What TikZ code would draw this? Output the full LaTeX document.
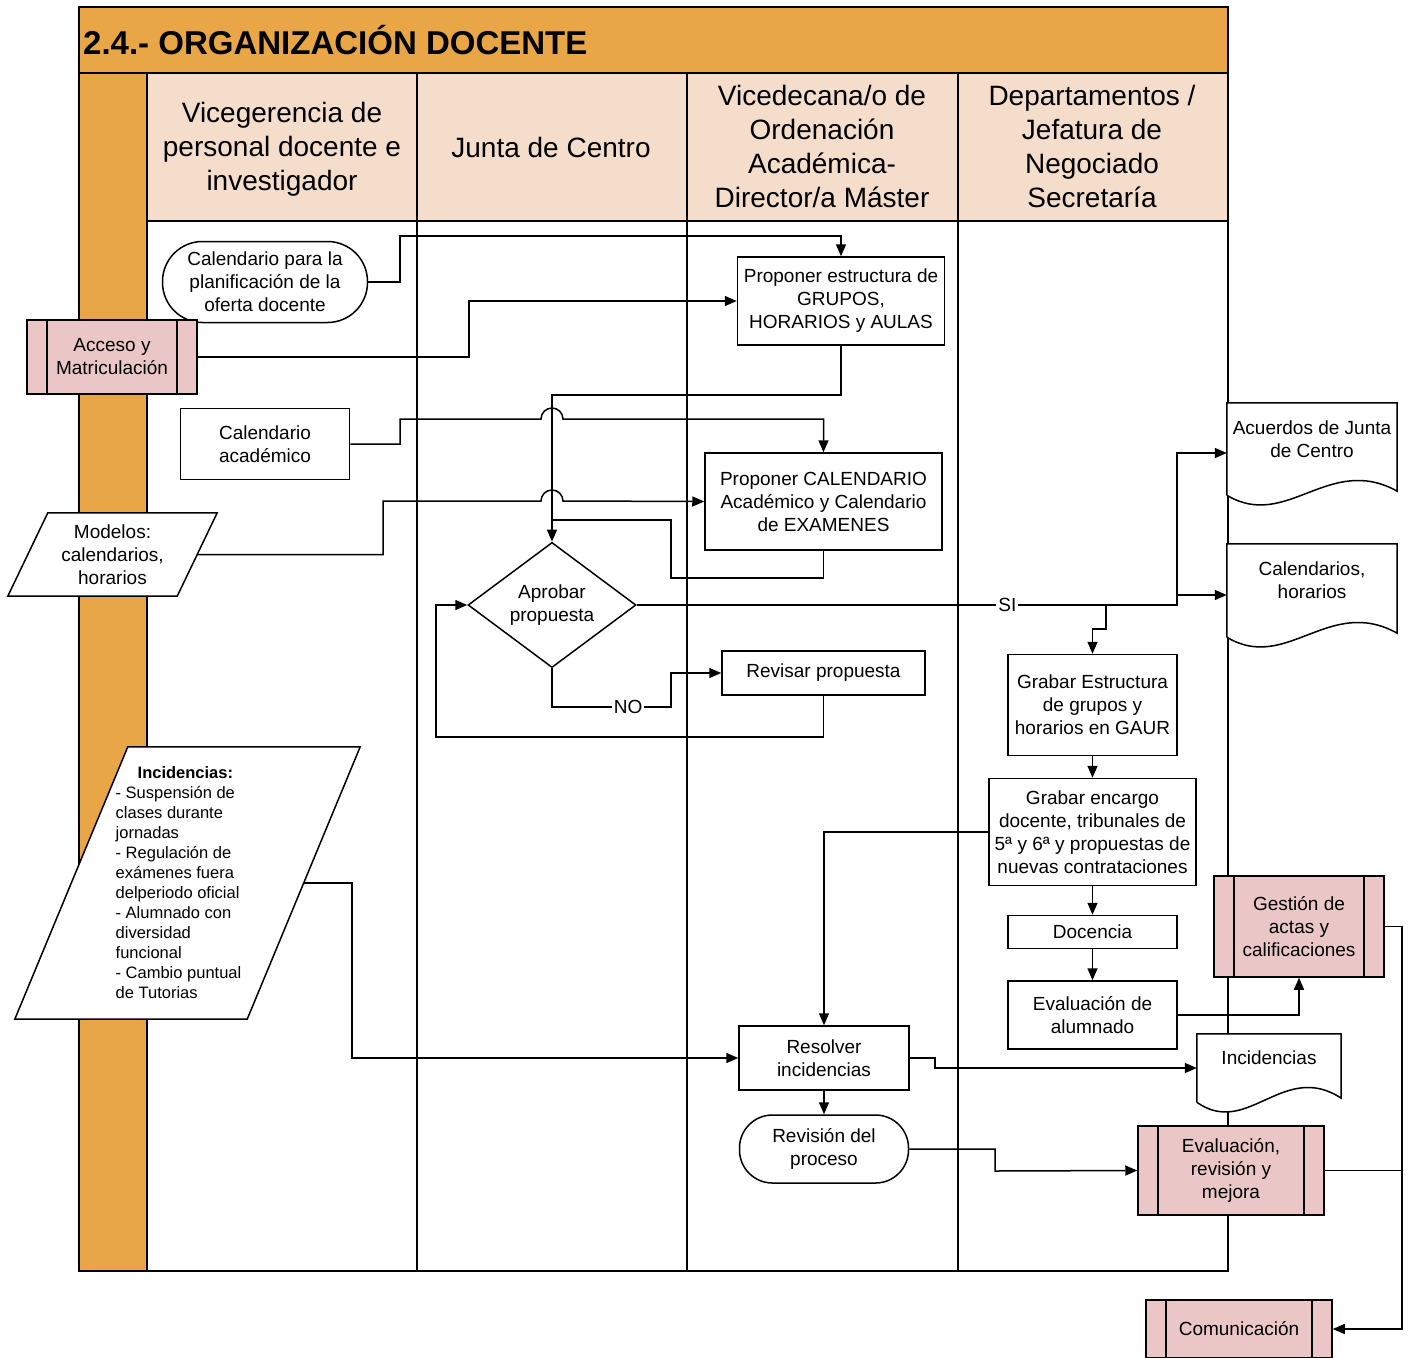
\documentclass[tikz,border=0pt]{standalone}
\usepackage{fontspec}
\setmainfont{Liberation Sans}
\usetikzlibrary{shapes.geometric,arrows.meta,backgrounds,calc}

\definecolor{barorange}{HTML}{E8A646}
\definecolor{headpeach}{HTML}{F4DDCA}
\definecolor{subpink}{HTML}{EAC6C6}

% document symbol: outline with a wavy bottom under the node
\newcommand{\docoutline}[1]{%
  \filldraw[conn,fill=white] ([yshift=-20pt]#1.south west) -- (#1.north west) -- (#1.north east)
    -- ([yshift=-16pt]#1.south east)
    .. controls ($(#1.south west)!0.6!(#1.south east)+(0,22pt)$)
    and ($(#1.south west)!0.35!(#1.south east)+(0,-56pt)$)
    .. ([yshift=-20pt]#1.south west);}
% data symbol: slanted box round the node
\newcommand{\paraoutline}[2]{%
  \filldraw[conn,fill=white] ([xshift=#2]#1.north west) -- (#1.north east)
    -- ([xshift=-#2]#1.south east) -- (#1.south west) -- cycle;}

\begin{document}
\begin{tikzpicture}[x=1pt,y=-1pt,>={Triangle[length=12pt,width=10pt]},
  every node/.style={font=\fontsize{19}{23}\selectfont,align=center,inner sep=0pt},
  conn/.style={line width=1.5pt},
  lane/.style={line width=1.8pt},
  box/.style={draw,fill=white,line width=1.5pt},
  term/.style={box,rounded corners=33pt},
  subproc/.style={box,fill=subpink,path picture={
    \draw[line width=1.5pt] ([xshift=20pt]path picture bounding box.north west) -- ([xshift=20pt]path picture bounding box.south west)
      ([xshift=-20pt]path picture bounding box.north east) -- ([xshift=-20pt]path picture bounding box.south east);}},
  dec/.style={box,diamond},
  lbl/.style={fill=white,inner xsep=2pt}]
  \useasboundingbox (0,0) rectangle (1409,1358);

  % inputs on the left
  \node [term,rounded corners=40pt,minimum width=205pt,minimum height=81pt] (plan) at (265,282) {Calendario para la\\planificación de la\\oferta docente};
  \node [subproc,minimum width=170pt,minimum height=74pt] (acceso) at (112,357) {Acceso y\\Matriculación};
  \node [box,minimum width=169pt,minimum height=71pt] (calacad) at (265,444) {Calendario\\académico};
  \node [minimum width=209pt,minimum height=83pt] (modelos) at (112.5,554.5) {Modelos:\\calendarios,\\horarios};
  \node [minimum width=345pt,minimum height=272pt,align=left,font=\fontsize{16.5}{20}\selectfont] (incid) at (187.5,883)
    {\hspace*{22pt}\textbf{Incidencias:}\\- Suspensión de\\clases durante\\jornadas\\- Regulación de\\exámenes fuera\\delperiodo oficial\\- Alumnado con\\diversidad\\funcional\\- Cambio puntual\rule{18pt}{0pt}\\de Tutorias};

  % vicedecanato
  \node [box,minimum width=207pt,minimum height=88pt] (grupos) at (841,301) {Proponer estructura de\\GRUPOS,\\HORARIOS y AULAS};
  \node [box,minimum width=237pt,minimum height=97pt] (propcal) at (823.5,501.5) {Proponer CALENDARIO\\Académico y Calendario\\de EXAMENES};
  \node [dec,minimum width=168pt,minimum height=101pt] (aprobar) at (552,605) {Aprobar\\propuesta};
  \node [box,minimum width=203pt,minimum height=44pt] (revisar) at (823.5,673) {Revisar propuesta};
  \node [box,minimum width=170pt,minimum height=64pt] (resolver) at (824,1058) {Resolver\\incidencias};
  \node [term,below of=resolver,node distance=91pt,minimum width=169pt,minimum height=68pt] (revision) {Revisión del\\proceso};

  % departamentos
  \node [box,minimum width=169pt,minimum height=101pt] (grabest) at (1092.5,705) {Grabar Estructura\\de grupos y\\horarios en GAUR};
  \node [box,below of=grabest,node distance=127pt,minimum width=207pt,minimum height=107pt] (grabenc) {Grabar encargo\\docente, tribunales de\\5ª y 6ª y propuestas de\\nuevas contrataciones};
  \node [box,below of=grabenc,node distance=100pt,minimum width=169pt,minimum height=33pt] (docencia) {Docencia};
  \node [box,below of=docencia,node distance=83pt,minimum width=169pt,minimum height=68pt] (evalal) {Evaluación de\\alumnado};

  % outputs on the right
  \node [minimum width=170pt,minimum height=72pt] (acuerdos) at (1312,439) {Acuerdos de Junta\\de Centro};
  \node [minimum width=170pt,minimum height=73pt] (calend) at (1312,580.5) {Calendarios,\\horarios};
  \node [minimum width=144pt,minimum height=48pt] (inciddoc) at (1269,1058) {Incidencias};
  \node [subproc,minimum width=170pt,minimum height=101pt] (gestion) at (1299,926.5) {Gestión de\\actas y\\calificaciones};
  \node [subproc,minimum width=186pt,minimum height=89pt] (evalrev) at (1231,1170.5) {Evaluación,\\revisión y\\mejora};
  \node [subproc,minimum width=186pt,minimum height=58pt] (comun) at (1239,1329) {Comunicación};

  \coordinate (fork) at (1177,595);
  \coordinate (split) at (1106,605);

  \draw[conn,->] (plan.east) -| (400,236) -| (grupos.north);
  \draw[conn,->] (acceso.east) -| (469,301) -- (grupos.west);
  \draw[conn,->] (grupos.south) |- (552,395) -- (aprobar.north);
  \draw[conn,->] (calacad.east) -| (400,419) -- (541,419) arc (180:360:11) -| (propcal.north);
  \draw[conn,->] ([xshift=-20pt]modelos.east) -| (383,501) -- (541,501) arc (180:360:11) -- (propcal.west);
  \draw[conn] (propcal.south) |- (671,578) |- (552,520);
  \draw[conn,->] (aprobar.east) -- node[lbl,pos=0.686] {SI} (1177,605) |- ([yshift=-14pt]acuerdos.west);
  \draw[conn,->] (fork) -- (fork -| calend.west);
  \draw[conn,->] (split) -- (1106,629) -| (grabest.north);
  \draw[conn,->] (aprobar.south) |- node[lbl,pos=0.82] {NO} (671,707) |- (revisar.west);
  \draw[conn,->] (revisar.south) |- (436,737) |- (aprobar.west);
  \draw[conn,->] (grabest) -- (grabenc);
  \draw[conn,->] (grabenc.west) -| (resolver.north);
  \draw[conn,->] (grabenc) -- (docencia);
  \draw[conn,->] (docencia) -- (evalal);
  \draw[conn,->] (evalal.east) -| (gestion.south);
  \draw[conn,->] ([xshift=-56pt]incid.east) -| (352,1058) -- (resolver.west);
  \draw[conn,->] (resolver.east) -| (935,1068) -- ([yshift=-10pt]inciddoc.west);
  \draw[conn,->] (resolver) -- (revision);
  \draw[conn,->] (revision.east) -| (995,1171) -- (evalrev.west);
  \draw[conn,->] (gestion.east) -| (1402,1329) -- (comun.east);
  \draw[conn] (evalrev.east) -- ++(78,0);

  % swimlanes
  \begin{scope}[on background layer]
    \fill[barorange] (79,7) rectangle (1228,73);
    \fill[barorange] (79,73) rectangle (147,1271);
    \fill[headpeach] (147,73) rectangle (1228,221);
    \draw[lane] (79,7) rectangle (1228,1271);
    \draw[lane] (79,73) -- (1228,73);
    \draw[lane] (147,73) -- (147,1271);
    \draw[lane] (147,221) -- (1228,221);
    \foreach \x in {417,687,958} \draw[lane] (\x,73) -- (\x,1271);
    \paraoutline{modelos}{40pt}
    \paraoutline{incid}{113pt}
    \docoutline{acuerdos}
    \docoutline{calend}
    \docoutline{inciddoc}
  \end{scope}
  \node [anchor=west,font=\fontsize{33}{36}\selectfont\bfseries] (title) at (83,40) {2.4.- ORGANIZACIÓN DOCENTE};
  \begin{scope}[every node/.style={font=\fontsize{28}{34}\selectfont,align=center}]
    \node (h1) at (282,149) {Vicegerencia de\\personal docente e\\investigador};
    \node (h2) at (551,147) {Junta de Centro};
    \node (h3) at (822,146) {Vicedecana/o de\\Ordenación\\Académica-\\Director/a Máster};
    \node (h4) at (1092,146) {Departamentos /\\Jefatura de\\Negociado\\Secretaría};
  \end{scope}
\end{tikzpicture}
\end{document}
